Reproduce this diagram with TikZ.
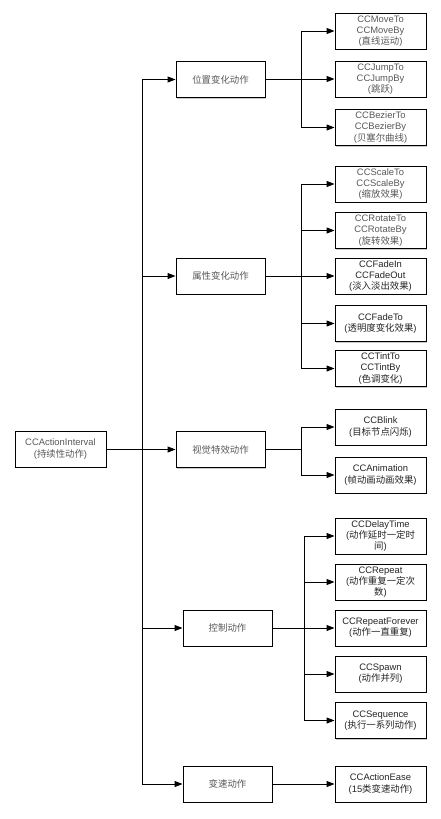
\documentclass[tikz,border=0pt]{standalone}
\usepackage{fontspec}
\setmainfont{Liberation Sans}
\newfontfamily\cjkfont{Noto Sans CJK SC}
\newcommand\zh[1]{{\cjkfont #1}}
\usetikzlibrary{arrows.meta,shadows}

\begin{document}
\begin{tikzpicture}[x=1pt,y=-1pt,
  box/.style={draw=black, line width=1pt, fill=white,
    minimum width=89pt, minimum height=36pt, inner sep=1pt,
    align=center, font=\fontsize{9.4}{11.2}\selectfont, text=black!85,
    drop shadow={shadow xshift=1.3pt, shadow yshift=-1.3pt,
      opacity=0.35, fill=black!60}},
  soft/.style={text=black!65},
  leaf/.style={box, minimum width=91pt},
  arr/.style={-{Triangle[length=8pt,width=6pt]}, line width=1pt},
  link/.style={line width=1pt}]

\useasboundingbox (0,0) rectangle (440,819);

% root
\node[box, soft, minimum width=91pt] (root) at (60.5,449) {CCActionInterval\\(\zh{持续性动作})};

% first level
\node[box, soft] (pos)  at (220.5,79.5) {\zh{位置变化动作}};
\node[box, soft] (attr) at (220.5,276)  {\zh{属性变化动作}};
\node[box, soft] (vis)  at (220.5,449.5) {\zh{视觉特效动作}};
\node[box, soft] (ctrl) at (227.5,628)  {\zh{控制动作}};
\node[box, soft] (ease) at (227.5,784)  {\zh{变速动作}};

% position actions
\node[leaf, soft] (m1) at (380.5,31)    {CCMoveTo\\CCMoveBy\\(\zh{直线运动})};
\node[leaf, soft] (m2) at (380.5,79)    {CCJumpTo\\CCJumpBy\\(\zh{跳跃})};
\node[leaf, soft] (m3) at (380.5,127.5) {CCBezierTo\\CCBezierBy\\(\zh{贝塞尔曲线})};

% attribute actions
\node[leaf, soft] (a1) at (380.5,184)   {CCScaleTo\\CCScaleBy\\(\zh{缩放效果})};
\node[leaf, soft] (a2) at (380.5,230.5) {CCRotateTo\\CCRotateBy\\(\zh{旋转效果})};
\node[leaf] (a3) at (380.5,276)   {CCFadeIn\\CCFadeOut\\(\zh{淡入淡出效果})};
\node[leaf] (a4) at (380.5,323.5) {CCFadeTo\\(\zh{透明度变化效果})};
\node[leaf] (a5) at (380.5,368.5) {CCTintTo\\CCTintBy\\(\zh{色调变化})};

% visual effects
\node[leaf] (v1) at (380.5,427) {CCBlink\\(\zh{目标节点闪烁})};
\node[leaf] (v2) at (380.5,475) {CCAnimation\\(\zh{帧动画动画效果})};

% control actions
\node[leaf] (c1) at (380.5,536)   {CCDelayTime\\(\zh{动作延时一定时}\\\zh{间})};
\node[leaf] (c2) at (380.5,582)   {CCRepeat\\(\zh{动作重复一定次}\\\zh{数})};
\node[leaf] (c3) at (380.5,628)   {CCRepeatForever\\(\zh{动作一直重复})};
\node[leaf] (c4) at (380.5,674)   {CCSpawn\\(\zh{动作并列})};
\node[leaf] (c5) at (380.5,720.5) {CCSequence\\(\zh{执行一系列动作})};

% easing
\node[leaf] (e1) at (380.5,784) {CCActionEase\\(15\zh{类变速动作})};

% trunk from the root
\coordinate (tk) at (142,0);
\draw[link] (root.east) -- (tk |- root);
\draw[link] (tk |- pos) -- (tk |- ease);
\foreach \n in {pos,attr,vis,ctrl,ease}
  \draw[arr] (tk |- \n) -- (\n.west);

% branches
\coordinate (b1) at (301,0);
\coordinate (b2) at (304.5,0);

\draw[link] (pos.east) -- (b1 |- pos);
\draw[link] (b1 |- m1) -- (b1 |- m3);
\foreach \n in {m1,m2,m3}
  \draw[arr] (b1 |- \n) -- (\n.west);

\draw[link] (attr.east) -- (b1 |- attr);
\draw[link] (b1 |- a1) -- (b1 |- a5);
\foreach \n in {a1,a2,a3,a4,a5}
  \draw[arr] (b1 |- \n) -- (\n.west);

\draw[link] (vis.east) -- (b1 |- vis);
\draw[link] (b1 |- v1) -- (b1 |- v2);
\foreach \n in {v1,v2}
  \draw[arr] (b1 |- \n) -- (\n.west);

\draw[link] (ctrl.east) -- (b2 |- ctrl);
\draw[link] (b2 |- c1) -- (b2 |- c5);
\foreach \n in {c1,c2,c3,c4,c5}
  \draw[arr] (b2 |- \n) -- (\n.west);

\draw[arr] (ease.east) -- (e1.west);

\end{tikzpicture}
\end{document}
